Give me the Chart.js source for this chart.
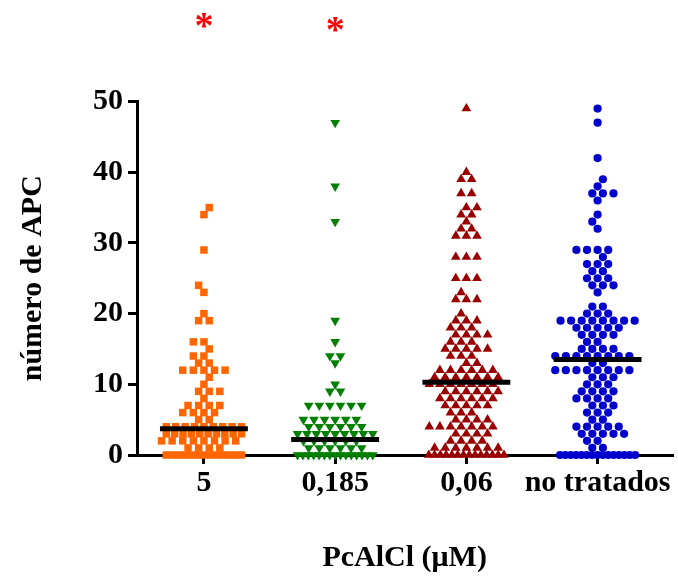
<!DOCTYPE html>
<html>
<head>
<meta charset="utf-8">
<script src="https://cdn.jsdelivr.net/npm/chart.js@4/dist/chart.umd.min.js"></script>
<style>
  html, body { margin: 0; padding: 0; background: #ffffff; }
  canvas { display: block; }
</style>
</head>
<body>
<canvas id="c" width="678" height="582"></canvas>
<script>
// ---------------- data ----------------
const categories = ['5', '0,185', '0,06', 'no tratados'];

const values5 = [
  35, 34, 29, 24, 23, 20, 19, 19, 16, 16, 15, 14, 14, 13, 13,
  12, 12, 12, 12, 12, 11, 10, 9, 9, 9, 8, 7, 7, 7, 7, 6, 6, 6, 6, 5, 5,
  4, 4, 4, 4, 4, 4, 4, 4, 4,
  3, 3, 3, 3, 3, 3, 3, 3, 3, 3,
  2, 2, 2, 2, 2, 2, 2, 2,
  1, 1, 1, 1,
  0, 0, 0, 0, 0, 0, 0, 0, 0, 0, 0, 0, 0
];

const values0185 = [
  47, 38, 33, 19, 16, 14, 14, 13, 10, 9, 9,
  7, 7, 7, 7, 7, 7,
  5, 5, 5, 5, 5, 5,
  4, 4, 4, 4, 4, 4,
  3, 3, 3, 3, 3, 3, 3, 3, 3,
  2, 2, 2, 2, 2, 2,
  1, 1, 1, 1, 1, 1,
  0, 0, 0, 0, 0, 0, 0, 0, 0, 0, 0, 0, 0, 0, 0
];

const values006 = [
  49, 40, 39, 39, 37, 37, 35, 35, 34, 34, 33, 32, 32, 31, 31, 31,
  28, 28, 28, 25, 25, 25, 23, 22, 22, 22, 20, 19, 19, 19, 18, 18, 18,
  17, 17, 17, 17, 16, 16, 16, 15, 15, 15, 15, 15, 14, 14, 14, 13, 13,
  12, 12, 12, 12, 12, 12,
  11, 11, 11, 11, 11, 11, 11,
  10, 10, 10, 10, 10, 10, 10,
  9, 9, 9, 9, 9, 9,
  8, 8, 8, 8, 8, 8,
  7, 7, 7, 7, 7,
  6, 6, 6,
  5, 5, 5, 5,
  4, 4, 4, 4, 4, 4, 4,
  3, 3, 3, 3,
  2, 2, 2, 2,
  1, 1, 1, 1, 1, 1, 1,
  0, 0, 0, 0, 0, 0, 0, 0, 0, 0, 0, 0, 0, 0
];

const valuesNT = [
  49, 47, 42, 39, 38, 37, 37, 37, 36, 34, 33, 32,
  29, 29, 29, 29, 28, 27, 27, 27, 26, 26, 25, 25, 25, 24, 24, 24, 23,
  21, 21, 20, 20, 20,
  19, 19, 19, 19, 19, 19, 19, 19,
  18, 18, 18, 18, 18,
  17, 17, 17, 17, 16, 16, 15, 15, 15, 15,
  14, 14, 14, 14, 14, 14, 14, 14,
  13, 13,
  12, 12, 12, 12, 12, 12, 12, 12,
  11, 11, 11, 10, 10, 10, 9, 9, 9, 9, 8, 8, 8, 8,
  7, 7, 7, 6, 6, 6, 5, 5,
  4, 4, 4, 4, 4, 3, 3, 3, 3, 3, 2, 2, 1, 1,
  0, 0, 0, 0, 0, 0, 0, 0, 0, 0, 0, 0, 0, 0, 0
];

const centralLines = [3.7, 2.2, 10.3, 13.5];   // black horizontal bars
const yTicks = [0, 10, 20, 30, 40, 50];
const significance = ['*', '*', '', ''];

// ---------------- styling / layout ----------------
const FONT = '"Liberation Serif", "Times New Roman", serif';
const groupStyles = [
  { color: '#FF6600', style: 'rect', radius: 5.3, rotation: 0 },
  { color: '#008000', style: 'triangle', radius: 5.6, rotation: 180 },
  { color: '#990000', style: 'triangle', radius: 5.6, rotation: 0 },
  { color: '#0000CC', style: 'circle', radius: 4.1, rotation: 0 }
];
const STEP_PX = 10.7;     // spacing between neighbours in a row (px)
const MARK_PX = 8;        // marker size used for overlap test (px)
const MAX_HALF_PX = 38;   // max half-width of a row (px)
const BAR_HALF = 0.335;   // half-width of the central bar (x units)
const sigLift = [64, 60];

// Column-scatter layout: rows of equal values spread horizontally,
// shifted to avoid overlapping markers of neighbouring rows.
function swarm(values, center, pxX, pxY) {
  const counts = new Map();
  values.forEach(v => counts.set(v, (counts.get(v) || 0) + 1));
  const keys = [...counts.keys()].sort((a, b) => a - b);
  const placed = [];
  const pts = [];
  let flip = 1;
  keys.forEach(v => {
    const n = counts.get(v);
    let xs;
    if ((n - 1) * STEP_PX > 2 * MAX_HALF_PX) {
      const s = 2 * MAX_HALF_PX / (n - 1);
      xs = Array.from({ length: n }, (_, i) => (i - (n - 1) / 2) * s);
    } else {
      const near = placed.filter(p => Math.abs(p.v - v) * pxY < MARK_PX);
      const collides = x => near.some(p => {
        const dx = p.x - x, dy = (p.v - v) * pxY;
        return Math.sqrt(dx * dx + dy * dy) < MARK_PX - 0.01;
      });
      const pick = half => {
        const cands = [];
        for (let k = 0; k < 30; k++) {
          const a = (k + half) * STEP_PX;
          if (a === 0) { cands.push(0); continue; }
          if (flip > 0) cands.push(a, -a); else cands.push(-a, a);
        }
        const uniq = [...new Set(cands)];
        const sel = [];
        for (const x of uniq) {
          if (sel.length >= n) break;
          if (!collides(x)) sel.push(x);
        }
        return { sel, cost: sel.reduce((s, x) => s + Math.abs(x), 0) };
      };
      const own = pick(n % 2 === 1 ? 0 : 0.5);
      const other = pick(n % 2 === 1 ? 0.5 : 0);
      xs = (other.cost < own.cost - 0.01 ? other : own).sel;
      xs.forEach(x => placed.push({ v, x }));
      flip = -flip;
    }
    xs.forEach(x => pts.push({ x: center + x / pxX, y: v }));
  });
  return pts;
}

const groups = [values5, values0185, values006, valuesNT];
const datasets = [];

centralLines.forEach((m, i) => {
  datasets.push({
    type: 'line',
    data: [{ x: i + 1 - BAR_HALF, y: m }, { x: i + 1 + BAR_HALF, y: m }],
    borderColor: '#000000',
    borderWidth: 5,
    borderCapStyle: 'butt',
    pointRadius: 0,
    fill: false,
    order: 0,
    clip: false
  });
});

groups.forEach((vals, i) => {
  const s = groupStyles[i];
  datasets.push({
    type: 'scatter',
    data: [],
    pointStyle: s.style,
    pointRadius: s.radius,
    pointRotation: s.rotation,
    pointBackgroundColor: s.color,
    pointBorderWidth: 0,
    pointBorderColor: s.color,
    order: 1,
    clip: false
  });
});

const sigPlugin = {
  id: 'sig',
  afterDraw(chart) {
    const { ctx, scales: { x }, chartArea } = chart;
    ctx.save();
    ctx.fillStyle = '#FF0000';
    ctx.font = 'bold 38px ' + FONT;
    ctx.textAlign = 'center';
    ctx.textBaseline = 'alphabetic';
    significance.forEach((s, i) => {
      if (!s) return;
      ctx.fillText(s, x.getPixelForValue(i + 1), chartArea.top - sigLift[i]);
    });
    ctx.restore();
  }
};

const chart = new Chart(document.getElementById('c'), {
  data: { datasets },
  options: {
    responsive: false,
    animation: false,
    devicePixelRatio: 1,
    layout: { padding: { top: 101.5, left: 0, right: 0, bottom: 6 } },
    plugins: { legend: { display: false }, tooltip: { enabled: false } },
    scales: {
      x: {
        type: 'linear',
        min: 0.49,
        max: 4.57,
        grid: { display: true, drawOnChartArea: false, drawTicks: true, tickLength: 9, color: '#000000', lineWidth: 3 },
        border: { display: true, color: '#000000', width: 3 },
        ticks: {
          stepSize: 1,
          includeBounds: false,
          padding: 1,
          color: '#000000',
          maxRotation: 0,
          autoSkip: false,
          font: { family: FONT, size: 30, weight: 'bold' },
          callback: v => categories[v - 1] || ''
        },
        title: {
          display: true,
          text: 'PcAlCl (μM)',
          color: '#000000',
          font: { family: FONT, size: 30, weight: 'bold' },
          padding: { top: 38, bottom: 0 }
        }
      },
      y: {
        type: 'linear',
        min: 0,
        max: 50,
        afterBuildTicks: axis => { axis.ticks = yTicks.map(v => ({ value: v })); },
        grid: { display: true, drawOnChartArea: false, drawTicks: true, tickLength: 9, color: '#000000', lineWidth: 3 },
        border: { display: true, color: '#000000', width: 3 },
        ticks: {
          padding: 5,
          color: '#000000',
          font: { family: FONT, size: 30, weight: 'bold' }
        },
        title: {
          display: true,
          text: 'número de APC',
          color: '#000000',
          font: { family: FONT, size: 30, weight: 'bold' },
          padding: { top: 15, bottom: 37 }
        }
      }
    }
  },
  plugins: [sigPlugin]
});

// place the points once the scales are known
const xs = chart.scales.x, ys = chart.scales.y;
const pxX = xs.getPixelForValue(2) - xs.getPixelForValue(1);
const pxY = ys.getPixelForValue(0) - ys.getPixelForValue(1);
groups.forEach((vals, i) => {
  chart.data.datasets[centralLines.length + i].data = swarm(vals, i + 1, pxX, pxY);
});
chart.update();
</script>
</body>
</html>
